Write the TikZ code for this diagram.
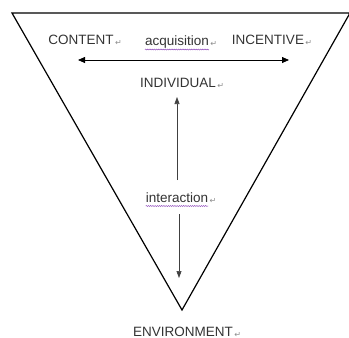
\documentclass[tikz,border=0pt]{standalone}
\usepackage{fontspec}
\setmainfont{Liberation Sans}
\newfontfamily\symfont{DejaVu Sans}
\usetikzlibrary{arrows.meta,positioning,decorations.pathmorphing}

\newcommand{\retmark}{{\symfont\fontsize{8}{9}\selectfont\color{black!45}\raisebox{2.5pt}{↵}}}

\begin{document}
\begin{tikzpicture}[x=1pt, y=-1pt,
    word/.style={font=\fontsize{13.5}{16}\selectfont, text=black!80, inner sep=0pt, anchor=base},
    rmark/.style={inner sep=0pt, anchor=base west},
    arr/.style={-{Triangle[length=7pt, width=6pt]}, line width=0.8pt, draw=black},
    vert/.style={-{Triangle[length=7pt, width=5pt]}, line width=0.6pt, draw=black!75},
    wavy/.style={draw=blue!50!purple!80, line width=0.4pt, decorate, decoration={snake, amplitude=0.5pt, segment length=2.2pt}}
]
    \useasboundingbox (0,0) rectangle (349,338);

    % inverted triangle
    \coordinate (tl) at (12,13);
    \coordinate (tr) at (350,13);
    \coordinate (bot) at (182,310);
    \draw [line width=1.2pt, line join=miter] (tl) -- (tr) -- (bot) -- cycle;

    % labels
    \node [word] (content) at (81,44) {CONTENT};
    \node [rmark, right=1pt of content.base east] (m1) {\retmark};
    \node [word] (acq) at (177,45) {acquisition};
    \node [rmark, right=1pt of acq.base east] (m2) {\retmark};
    \node [word] (incent) at (268,44) {INCENTIVE};
    \node [rmark, right=1pt of incent.base east] (m3) {\retmark};
    \node [word] (indiv) at (178,87) {INDIVIDUAL};
    \node [rmark, right=1pt of indiv.base east] (m4) {\retmark};
    \node [word] (inter) at (177,202) {interaction};
    \node [rmark, right=1pt of inter.base east] (m5) {\retmark};
    \node [word] (env) at (183,336) {ENVIRONMENT};
    \node [rmark, right=1pt of env.base east] (m6) {\retmark};

    % spelling marks
    \draw [wavy] ([yshift=-4.5pt]acq.base west) -- ([yshift=-4.5pt]acq.base east);
    \draw [wavy] ([yshift=-4pt]inter.base west) -- ([yshift=-4pt]inter.base east);

    % arrows
    \coordinate (hl) at (78,60);
    \coordinate (hr) at (289,60);
    \draw [arr, {Triangle[length=7pt, width=6pt]}-{Triangle[length=7pt, width=6pt]}] (hl) -- (hr);

    \coordinate (upfoot) at (177,180);
    \coordinate (uptip) at (177,97);
    \draw [vert] (upfoot) -- (uptip);
    \coordinate (dnfoot) at (179,214);
    \coordinate (dntip) at (179,278);
    \draw [vert] (dnfoot) -- (dntip);
\end{tikzpicture}
\end{document}
